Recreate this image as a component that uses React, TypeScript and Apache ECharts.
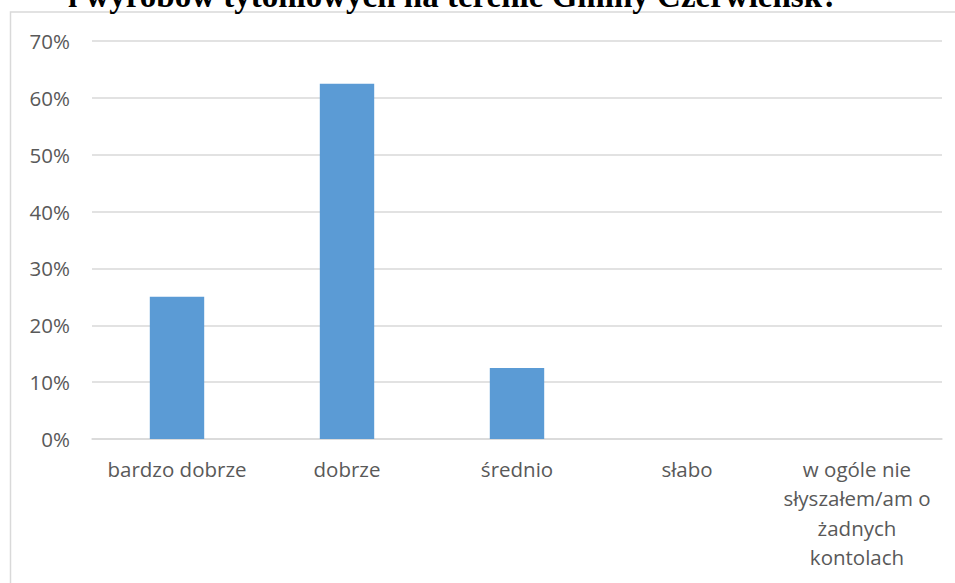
import React, { useEffect, useRef } from "react";
import * as echarts from "echarts";

const TITLE = "i wyrobów tytoniowych na terenie Gminy Czerwieńsk?";
const categories = [
  "bardzo dobrze",
  "dobrze",
  "średnio",
  "słabo",
  "w ogóle nie\nsłyszałem/am o\nżadnych\nkontolach",
];
const values = [25, 62.5, 12.5, 0, 0];
const yTicks = { min: 0, max: 70, interval: 10 };

export default function App() {
  const ref = useRef<HTMLDivElement>(null);
  useEffect(() => {
    if (!ref.current) return;
    const chart = echarts.init(ref.current, null, { renderer: "svg" });
    const font = "'Open Sans', sans-serif";
    chart.setOption({
      animation: false,
      backgroundColor: "#ffffff",
      grid: { left: 92, right: 13, top: 41, bottom: 144, containLabel: false },
      xAxis: {
        type: "category",
        data: categories,
        axisLine: { lineStyle: { color: "#D9D9D9", width: 1.5 } },
        axisTick: { show: false },
        axisLabel: {
          color: "#595959",
          fontFamily: font,
          fontSize: 20.5,
          lineHeight: 29.5,
          margin: 15,
          interval: 0,
        },
      },
      yAxis: {
        type: "value",
        min: yTicks.min,
        max: yTicks.max,
        interval: yTicks.interval,
        axisLine: { show: false },
        axisTick: { show: false },
        splitLine: { lineStyle: { color: "#D9D9D9", width: 1.5 } },
        axisLabel: {
          color: "#595959",
          fontFamily: font,
          fontSize: 20.5,
          margin: 22,
          formatter: (v: number) => v + "%",
        },
      },
      series: [
        {
          type: "bar",
          data: values,
          barWidth: "32%",
          itemStyle: { color: "#5B9BD5" },
        },
      ],
      graphic: [
        {
          type: "rect",
          shape: { x: 10.5, y: 12, width: 1200, height: 1000 },
          style: { fill: "none", stroke: "#D9D9D9", lineWidth: 1.5 },
          z: -1,
        },
        {
          type: "text",
          x: 68,
          y: 12,
          style: {
            text: TITLE,
            font: "bold 33px 'Liberation Serif', 'Times New Roman', serif",
            fill: "#000000",
            textVerticalAlign: "bottom",
          },
        },
      ],
    });
    return () => chart.dispose();
  }, []);
  return (
    <div
      ref={ref}
      style={{ position: "absolute", left: 0, top: 0, width: 955, height: 583, overflow: "hidden" }}
    />
  );
}
